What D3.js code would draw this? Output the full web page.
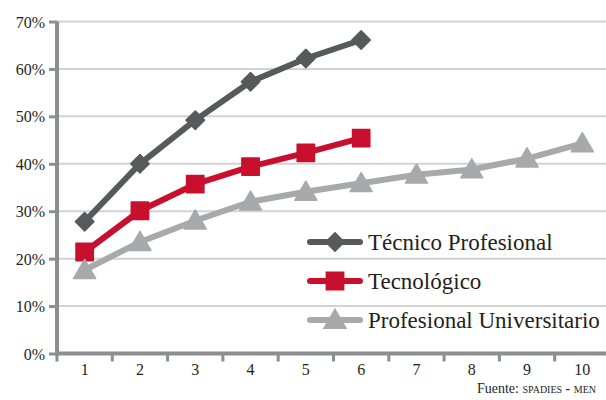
<!DOCTYPE html>
<html>
<head>
<meta charset="utf-8">
<script src="https://cdn.jsdelivr.net/npm/d3@7"></script>
<style>
  html, body { margin: 0; padding: 0; background: #fff; }
  svg { display: block; }
  svg text { font-family: "Liberation Serif", "Times New Roman", Tinos, Times, serif; }
</style>
</head>
<body>
<svg id="chart" width="606" height="400"></svg>
<script>
// Semesters (cumulative dropout by period)
const periods = [1, 2, 3, 4, 5, 6, 7, 8, 9, 10];
const yTicks = [0, 10, 20, 30, 40, 50, 60, 70];

const tecnicoProfesional = [27.8, 40.0, 49.2, 57.3, 62.2, 66.1];
const tecnologico = [21.4, 30.1, 35.7, 39.4, 42.3, 45.4];
const profesionalUniversitario = [17.6, 23.5, 28.0, 32.0, 34.1, 35.9, 37.7, 38.8, 41.1, 44.3];

const seriesNames = ["Técnico Profesional", "Tecnológico", "Profesional Universitario"];
const seriesColors = ["#58595b", "#c8102e", "#a7a9ac"];
const seriesShapes = ["diamond", "square", "triangle"];

const textFont = "Liberation Serif";
const textColor = "#231f20";

const series = [tecnicoProfesional, tecnologico, profesionalUniversitario].map((vals, i) => ({
  name: seriesNames[i],
  color: seriesColors[i],
  shape: seriesShapes[i],
  values: vals.map((v, j) => ({ period: periods[j], value: v }))
}));

const svg = d3.select("#chart");
const plotLeft = 57, plotRight = 610, plotTop = 21.5, plotBottom = 353.5;

const x = d3.scaleBand().domain(periods).range([plotLeft, plotRight]);
const y = d3.scaleLinear().domain([0, 70]).range([plotBottom, plotTop]);

const axisColor = "#8d8e90";

// Horizontal gridlines
svg.append("g").selectAll("line")
  .data(yTicks.filter(d => d > 0))
  .join("line")
  .attr("x1", plotLeft).attr("x2", 606)
  .attr("y1", d => y(d)).attr("y2", d => y(d))
  .attr("stroke", "#d3d3d4").attr("stroke-width", 2);

// Y axis
const yAxis = svg.append("g")
  .attr("transform", `translate(${plotLeft},0)`)
  .call(d3.axisLeft(y).tickValues(yTicks).tickFormat(d => d + "%").tickSize(8).tickPadding(4));
yAxis.attr("font-family", textFont).attr("font-size", 16);
yAxis.select(".domain").attr("stroke", axisColor).attr("stroke-width", 4).attr("d", `M0,${plotTop}V${plotBottom + 2}`);
yAxis.selectAll(".tick line").attr("stroke", axisColor).attr("stroke-width", 3);
yAxis.selectAll(".tick text")
  .attr("font-family", textFont).attr("font-size", 16).attr("fill", textColor).attr("dy", "0.35em");

// X axis: ticks at category boundaries, labels at centres
const xAxis = svg.append("g").attr("transform", `translate(0,${plotBottom})`);
xAxis.append("line")
  .attr("x1", plotLeft - 2).attr("x2", 606)
  .attr("stroke", axisColor).attr("stroke-width", 4);
xAxis.selectAll(".bound")
  .data(periods)
  .join("line")
  .attr("class", "bound")
  .attr("x1", d => x(d)).attr("x2", d => x(d))
  .attr("y1", 0).attr("y2", 8)
  .attr("stroke", axisColor).attr("stroke-width", 3);
xAxis.selectAll(".lbl")
  .data(periods)
  .join("text")
  .attr("class", "lbl")
  .attr("x", d => x(d) + x.bandwidth() / 2)
  .attr("y", 21)
  .attr("text-anchor", "middle")
  .attr("fill", textColor)
  .attr("font-family", textFont).attr("font-size", 16)
  .text(d => d);

const cx = d => x(d.period) + x.bandwidth() / 2;
const line = d3.line().x(cx).y(d => y(d.value));

const symbolFor = {
  diamond: d3.symbol().type(d3.symbolSquare).size(170),
  square: d3.symbol().type(d3.symbolSquare).size(300),
  triangle: d3.symbol().type(d3.symbolTriangle).size(210)
};
const rotateFor = { diamond: 45, square: 0, triangle: 0 };

// Lines and markers
series.forEach(s => {
  const g = svg.append("g");
  g.append("path")
    .datum(s.values)
    .attr("d", line)
    .attr("fill", "none")
    .attr("stroke", s.color)
    .attr("stroke-width", 6)
    .attr("stroke-linejoin", "round");
  g.selectAll("path.mark")
    .data(s.values)
    .join("path")
    .attr("class", "mark")
    .attr("d", symbolFor[s.shape])
    .attr("transform", d => `translate(${cx(d)},${y(d.value) + (s.shape === "triangle" ? 2 : 0)}) rotate(${rotateFor[s.shape]})`)
    .attr("fill", s.color)
    .attr("stroke", s.color)
    .attr("stroke-width", 1.5)
    .attr("stroke-linejoin", "round");
});

// Legend
const legend = svg.append("g").attr("transform", "translate(307,242)");
series.forEach((s, i) => {
  const row = legend.append("g").attr("transform", `translate(0,${i * 39})`);
  row.append("rect")
    .attr("x", 0).attr("y", -3).attr("width", 56).attr("height", 6).attr("rx", 3)
    .attr("fill", s.color);
  row.append("path")
    .attr("d", symbolFor[s.shape])
    .attr("transform", `translate(28,${s.shape === "triangle" ? 2 : 0}) rotate(${rotateFor[s.shape]})`)
    .attr("fill", s.color).attr("stroke", s.color).attr("stroke-width", 1.5);
  row.append("text")
    .attr("x", 61).attr("y", 8)
    .attr("fill", textColor)
    .attr("font-family", textFont).attr("font-size", 23)
    .text(s.name);
});

// Source note
svg.append("text")
  .attr("x", 596).attr("y", 393)
  .attr("text-anchor", "end")
  .attr("fill", textColor)
  .attr("font-family", textFont).attr("font-size", 14)
  .html('Fuente: <tspan style="font-variant: small-caps">spadies - men</tspan>');
</script>
</body>
</html>
